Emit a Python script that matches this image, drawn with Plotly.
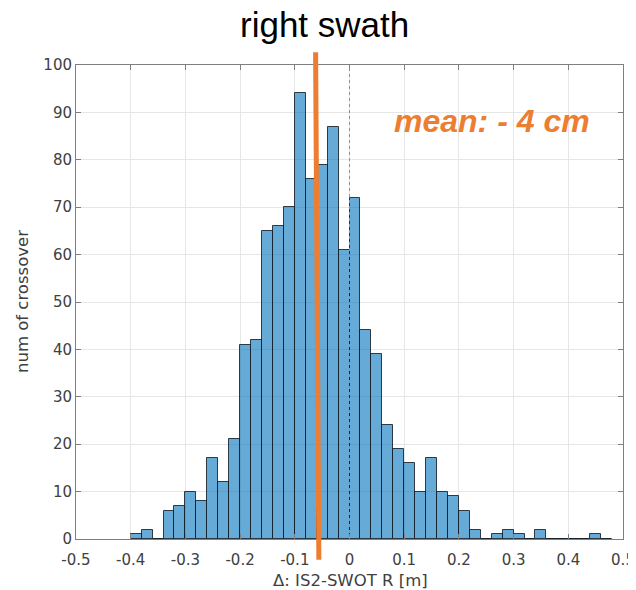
import plotly.graph_objects as go

# Histogram bins (left edges, width 0.02 m) and counts
bin_left = [-0.40, -0.38, -0.36, -0.34, -0.32, -0.30, -0.28, -0.26, -0.24, -0.22,
            -0.20, -0.18, -0.16, -0.14, -0.12, -0.10, -0.08, -0.06, -0.04, -0.02,
            0.00, 0.02, 0.04, 0.06, 0.08, 0.10, 0.12, 0.14, 0.16, 0.18,
            0.20, 0.22, 0.24, 0.26, 0.28, 0.30, 0.32, 0.34, 0.36, 0.38,
            0.40, 0.42, 0.44, 0.46]
counts = [1, 2, 0, 6, 7, 10, 8, 17, 12, 21,
          41, 42, 65, 66, 70, 94, 76, 79, 87, 61,
          72, 44, 39, 24, 19, 16, 10, 17, 10, 9,
          6, 2, 0, 1, 2, 1, 0, 2, 0, 0,
          0, 0, 1, 0]
bin_width = 0.02
mean_line_x = [-0.062, -0.056]  # top, bottom of the drawn orange line
x_ticks = [-0.5, -0.4, -0.3, -0.2, -0.1, 0, 0.1, 0.2, 0.3, 0.4, 0.5]
x_tick_labels = ["-0.5", "-0.4", "-0.3", "-0.2", "-0.1", "0", "0.1", "0.2", "0.3", "0.4", "0.5"]
y_ticks = list(range(0, 101, 10))

centers = [b + bin_width / 2 for b in bin_left]

fig = go.Figure()
fig.add_trace(go.Bar(
    x=centers, y=counts, width=[bin_width] * len(centers),
    marker=dict(color="rgba(0,114,189,0.6)", line=dict(color="rgba(20,30,40,0.85)", width=1)),
    showlegend=False,
))

tick_font = dict(family="DejaVu Sans", size=15, color="#404040")
label_font = dict(family="DejaVu Sans", size=16.5, color="#404040")

fig.update_layout(
    width=628, height=582,
    margin=dict(l=68, r=13, t=57, b=51),
    paper_bgcolor="white", plot_bgcolor="white",
    bargap=0,
    xaxis=dict(
        range=[-0.5, 0.5], tickvals=x_ticks, ticktext=x_tick_labels,
        showgrid=True, gridcolor="#e6e6e6", gridwidth=1,
        showline=True, linecolor="#7f7f7f", linewidth=1, mirror="ticks",
        ticks="inside", ticklen=5, tickcolor="#7f7f7f",
        tickfont=tick_font, zeroline=False, automargin=False,
        ticklabelstandoff=7,
    ),
    yaxis=dict(
        range=[0, 100], tickvals=y_ticks,
        showgrid=True, gridcolor="#e6e6e6", gridwidth=1,
        showline=True, linecolor="#7f7f7f", linewidth=1, mirror="ticks",
        ticks="inside", ticklen=5, tickcolor="#7f7f7f",
        tickfont=tick_font, zeroline=False, automargin=False,
    ),
)

# axis titles
fig.add_annotation(text="Δ: IS2-SWOT R [m]", xref="paper", yref="paper", x=0.501, y=-0.0865,
                   showarrow=False, xanchor="center", yanchor="middle", font=label_font)
fig.add_annotation(text="num of crossover", xref="paper", yref="paper", x=-0.0987, y=0.5,
                   showarrow=False, xanchor="center", yanchor="middle", textangle=-90, font=label_font)

# dashed reference line at zero
fig.add_shape(type="line", xref="x", yref="y", x0=0, x1=0, y0=0, y1=100,
              line=dict(color="#909090", width=1, dash="dot"), layer="above")

# orange mean line extending past the plot area
fig.add_shape(type="line", xref="x", yref="paper",
              x0=mean_line_x[0], x1=mean_line_x[1], y0=1.027, y1=-0.044,
              line=dict(color="#ED7D31", width=5), layer="above")

fig.add_annotation(text="right swath", xref="paper", yref="paper", x=0.454, y=1.085,
                   showarrow=False, xanchor="center", yanchor="middle", borderpad=0,
                   font=dict(family="Liberation Sans", size=35, color="black"))

fig.add_annotation(text="<b><i>mean: - 4 cm</i></b>", xref="x", yref="y", x=0.2605, y=88.2,
                   showarrow=False, xanchor="center", yanchor="middle",
                   font=dict(family="Liberation Sans", size=32, color="#ED7D31"))

fig.write_html("out.html")
